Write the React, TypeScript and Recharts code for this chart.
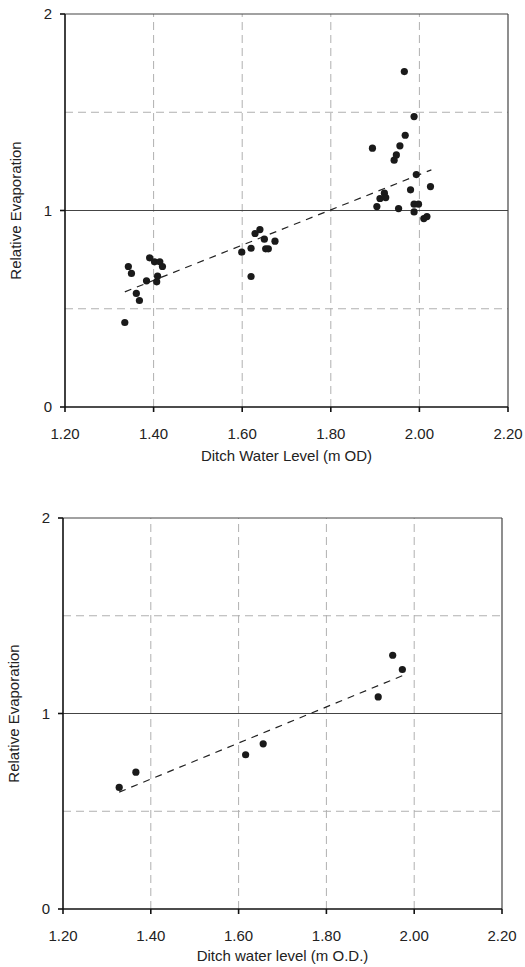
import React from 'react';
import {
  ScatterChart,
  Scatter,
  XAxis,
  YAxis,
  ReferenceLine,
} from 'recharts';

// x ticks (ditch water level, m OD) and y ticks (relative evaporation)
const xTicks = [1.2, 1.4, 1.6, 1.8, 2.0, 2.2];
const yTicks = [0, 1, 2];
const xGrid = [1.4, 1.6, 1.8, 2.0];
const yGrid = [0.5, 1.5];

// upper panel: all observations
const topPoints = [
  { x: 1.335, y: 0.43 }, { x: 1.343, y: 0.715 }, { x: 1.35, y: 0.68 },
  { x: 1.361, y: 0.578 }, { x: 1.368, y: 0.542 }, { x: 1.384, y: 0.642 },
  { x: 1.391, y: 0.759 }, { x: 1.402, y: 0.739 }, { x: 1.407, y: 0.637 },
  { x: 1.409, y: 0.666 }, { x: 1.414, y: 0.739 }, { x: 1.42, y: 0.715 },
  { x: 1.599, y: 0.788 }, { x: 1.62, y: 0.808 }, { x: 1.62, y: 0.664 },
  { x: 1.629, y: 0.883 }, { x: 1.64, y: 0.903 }, { x: 1.65, y: 0.854 },
  { x: 1.653, y: 0.805 }, { x: 1.659, y: 0.805 }, { x: 1.674, y: 0.844 },
  { x: 1.894, y: 1.317 }, { x: 1.904, y: 1.02 }, { x: 1.911, y: 1.061 },
  { x: 1.921, y: 1.088 }, { x: 1.924, y: 1.066 }, { x: 1.943, y: 1.256 },
  { x: 1.948, y: 1.283 }, { x: 1.953, y: 1.01 }, { x: 1.956, y: 1.329 },
  { x: 1.966, y: 1.707 }, { x: 1.968, y: 1.383 }, { x: 1.98, y: 1.105 },
  { x: 1.988, y: 1.478 }, { x: 1.988, y: 0.993 }, { x: 1.988, y: 1.032 },
  { x: 1.993, y: 1.183 }, { x: 1.998, y: 1.032 }, { x: 2.01, y: 0.959 },
  { x: 2.017, y: 0.969 }, { x: 2.025, y: 1.122 },
];
const topTrend = [
  { x: 1.335, y: 0.586 },
  { x: 2.027, y: 1.207 },
];

// lower panel
const bottomPoints = [
  { x: 1.328, y: 0.622 }, { x: 1.366, y: 0.7 }, { x: 1.616, y: 0.789 },
  { x: 1.656, y: 0.845 }, { x: 1.918, y: 1.085 }, { x: 1.951, y: 1.298 },
  { x: 1.973, y: 1.225 },
];
const bottomTrend = [
  { x: 1.328, y: 0.598 },
  { x: 1.976, y: 1.196 },
];

const FONT = 'Liberation Sans, Arial, Helvetica, sans-serif';
const tickStyle = { fill: '#222', fontSize: 15, fontFamily: FONT };

const Dot = (props: any) => <circle cx={props.cx} cy={props.cy} r={3.6} fill="#1a1a1a" />;
const NoDot = () => <g />;

interface PanelProps {
  points: { x: number; y: number }[];
  trend: { x: number; y: number }[];
  xLabel: string;
  width: number;
  height: number;
  margin: { top: number; right: number; left: number; bottom: number };
  yAxisWidth: number;
  xAxisHeight: number;
  xLabelOffset: number;
  yLabelOffset: number;
}

const Panel: React.FC<PanelProps> = ({
  points, trend, xLabel, width, height, margin, yAxisWidth, xAxisHeight, xLabelOffset, yLabelOffset,
}) => (
  <ScatterChart width={width} height={height} margin={margin}>
    {xGrid.map((v) => (
      <ReferenceLine key={'x' + v} x={v} stroke="#b0b0b0" strokeDasharray="8 5" />
    ))}
    {yGrid.map((v) => (
      <ReferenceLine key={'y' + v} y={v} stroke="#b0b0b0" strokeDasharray="8 5" />
    ))}
    <ReferenceLine y={1} stroke="#444" strokeWidth={1.2} />
    {/* plot frame top / right */}
    <ReferenceLine y={2} stroke="#444" strokeWidth={1.2} />
    <ReferenceLine x={2.2} stroke="#444" strokeWidth={1.2} />
    <XAxis
      type="number"
      dataKey="x"
      domain={[1.2, 2.2]}
      ticks={xTicks}
      tickFormatter={(v: number) => v.toFixed(2)}
      tick={tickStyle}
      tickSize={5}
      tickMargin={16}
      stroke="#111"
      strokeWidth={1.6}
      height={xAxisHeight}
      allowDataOverflow
      label={{
        value: xLabel,
        position: 'insideBottom',
        offset: xLabelOffset,
        style: { fill: '#222', fontSize: 15, fontFamily: FONT },
      }}
    />
    <YAxis
      type="number"
      dataKey="y"
      domain={[0, 2]}
      ticks={yTicks}
      tick={tickStyle}
      tickSize={5}
      tickMargin={8}
      stroke="#111"
      strokeWidth={1.6}
      width={yAxisWidth}
      allowDataOverflow
      label={{
        value: 'Relative Evaporation',
        angle: -90,
        position: 'insideLeft',
        offset: yLabelOffset,
        style: { textAnchor: 'middle', fill: '#222', fontSize: 15, fontFamily: FONT },
      }}
    />
    <Scatter
      data={trend}
      line={{ stroke: '#222', strokeWidth: 1.2, strokeDasharray: '7 6' }}
      shape={NoDot}
      isAnimationActive={false}
    />
    <Scatter data={points} shape={Dot} isAnimationActive={false} />
  </ScatterChart>
);

export default function App() {
  return (
    <div style={{ position: 'absolute', left: 0, top: 0, width: 525, height: 967, background: '#fff' }}>
      <Panel
        points={topPoints}
        trend={topTrend}
        xLabel="Ditch Water Level (m OD)"
        width={525}
        height={480}
        margin={{ top: 14, right: 17, left: 0, bottom: 0 }}
        yAxisWidth={65}
        xAxisHeight={73}
        xLabelOffset={19}
        yLabelOffset={16}
      />
      <Panel
        points={bottomPoints}
        trend={bottomTrend}
        xLabel="Ditch water level (m O.D.)"
        width={525}
        height={487}
        margin={{ top: 38, right: 23, left: 0, bottom: 0 }}
        yAxisWidth={63}
        xAxisHeight={58}
        xLabelOffset={6}
        yLabelOffset={14}
      />
    </div>
  );
}
